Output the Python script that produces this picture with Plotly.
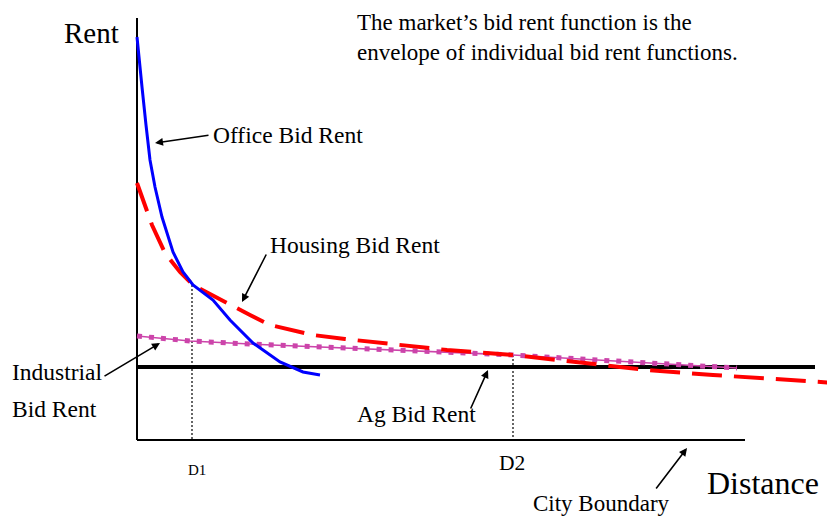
import plotly.graph_objects as go

# curves (distance, rent) in screen units
office_x = [137, 140, 142, 146, 150, 155, 162, 173, 183, 193, 213, 230, 253, 280, 303, 320]
office_y = [37, 70, 87, 125, 160, 187, 217, 252, 272, 285, 300, 320, 343, 362, 372, 375]

housing_x = [137, 147, 152, 165, 180, 193, 210, 230, 250, 270, 290, 313, 345, 380, 447, 513, 580, 647, 713, 775, 835]
housing_y = [183, 210, 225, 253, 272, 285, 294, 305, 315, 325, 330, 335, 339, 343, 350, 355, 362, 370, 375, 379, 383]

industrial_x = [137, 190, 250, 320, 380, 450, 513, 580, 650, 700, 737]
industrial_y = [336, 341, 344, 347, 349, 352, 355, 359, 363, 366, 368]

ag_x = [137, 815]
ag_y = [367, 367]

rent_axis_x = [137, 137]
rent_axis_y = [18, 440]
dist_axis_x = [137, 745]
dist_axis_y = [440, 440]

d1_x = [192, 192]
d1_y = [285, 440]
d2_x = [513, 513]
d2_y = [355, 440]

SERIF = "Liberation Serif, Times New Roman, serif"

fig = go.Figure()

def line(x, y, color, width, dash="solid"):
    fig.add_trace(go.Scatter(x=x, y=y, mode="lines", hoverinfo="skip",
                             line=dict(color=color, width=width, dash=dash)))

line(rent_axis_x, rent_axis_y, "black", 2)
line(dist_axis_x, dist_axis_y, "black", 2)
line(d1_x, d1_y, "black", 1.2, "2px,2px")
line(d2_x, d2_y, "black", 1.2, "2px,2px")
line(ag_x, ag_y, "black", 4)
line(industrial_x, industrial_y, "#cc44aa", 1.5)
line(industrial_x, industrial_y, "#cc44aa", 5, "5px,7px")
line(housing_x, housing_y, "red", 4, "30px,12px")
line(office_x, office_y, "blue", 3)

labels = [
    ("Rent", 62, 33, 29),
    ("The market\u2019s bid rent function is the", 355, 22, 23),
    ("envelope of individual bid rent functions.", 355, 52, 23),
    ("Office Bid Rent", 211, 135, 23.5),
    ("Housing Bid Rent", 268, 245, 23.5),
    ("Industrial", 10, 372, 23.5),
    ("Bid Rent", 10, 409, 23.5),
    ("Ag Bid Rent", 355, 414, 23.5),
    ("D1", 186, 470, 15),
    ("D2", 497, 463, 21.5),
    ("City Boundary", 531, 503, 23),
    ("Distance", 705, 483, 32),
]
for txt, x, y, s in labels:
    fig.add_annotation(x=x, y=y, text=txt, showarrow=False, xanchor="left", yanchor="middle",
                       font=dict(family=SERIF, size=s, color="black"))

# arrows: (tail x, tail y, head x, head y)
arrows = [
    (210, 135, 155, 143),
    (267, 253, 242, 302),
    (103, 377, 160, 343),
    (470, 410, 488, 370),
    (655, 490, 687, 448),
]
for tx, ty, hx, hy in arrows:
    fig.add_annotation(x=hx, y=hy, ax=tx, ay=ty, axref="x", ayref="y", text="",
                       showarrow=True, arrowhead=2, arrowsize=1, arrowwidth=1.6,
                       arrowcolor="black")

# the page body adds an 8px margin, so the plot is 8px smaller and the ranges start at 8
fig.update_layout(
    width=827, height=510,
    margin=dict(l=0, r=0, t=0, b=0),
    plot_bgcolor="white", paper_bgcolor="white",
    showlegend=False,
    xaxis=dict(range=[8, 835], visible=False, fixedrange=True),
    yaxis=dict(range=[518, 8], visible=False, fixedrange=True),
)

fig.write_html("out.html")
